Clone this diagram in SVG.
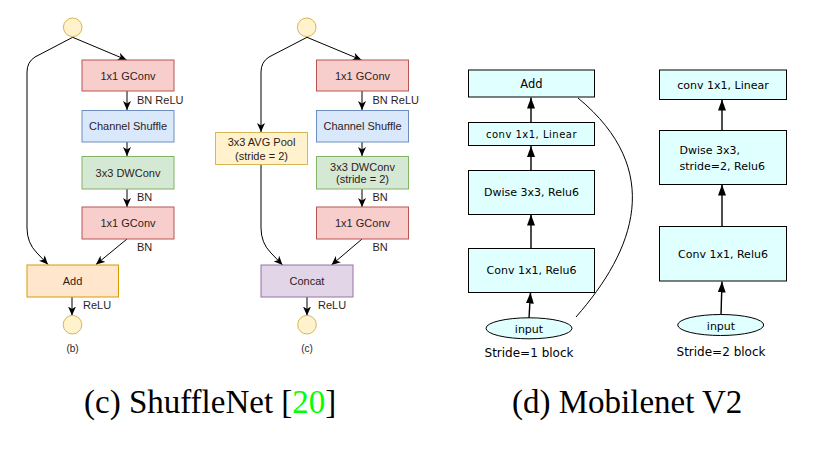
<svg xmlns="http://www.w3.org/2000/svg" width="825" height="449" viewBox="0 0 825 449">
<defs>
<marker id="ah" markerWidth="10" markerHeight="8" refX="9" refY="4" orient="auto" markerUnits="userSpaceOnUse"><path d="M0,0 L9,4 L0,8 L2.5,4 z" fill="#000"/></marker>
<marker id="ahm" markerWidth="11" markerHeight="8" refX="11" refY="4" orient="auto" markerUnits="userSpaceOnUse"><path d="M0,0 L11,4 L0,8 z" fill="#000"/></marker>
<style>
.dio{font-family:"Liberation Sans",Arial,sans-serif;font-size:11px;fill:#2e1c1c;text-anchor:middle}
.lab{font-family:"Liberation Sans",Arial,sans-serif;font-size:11px;fill:#2e1c1c}
.red{fill:#f8cecc;stroke:#b85450;stroke-width:1}
.blue{fill:#dae8fc;stroke:#6c8ebf;stroke-width:1}
.green{fill:#d5e8d4;stroke:#82b366;stroke-width:1}
.yel{fill:#fff2cc;stroke:#d6b656;stroke-width:1}
.org{fill:#ffe6cc;stroke:#d79b00;stroke-width:1}
.pur{fill:#e1d5e7;stroke:#9673a6;stroke-width:1}
.mb{fill:#e0ffff;stroke:#000;stroke-width:1}
.mt{font-family:"DejaVu Sans",Verdana,sans-serif;font-size:11px;fill:#000;text-anchor:middle}
.cap{font-family:"Liberation Serif","Times New Roman",serif;font-size:33px;fill:#000}
.e{fill:none;stroke:#000;stroke-width:1;marker-end:url(#ah)}
.em{fill:none;stroke:#000;stroke-width:1.4;marker-end:url(#ahm)}
</style>
</defs>
<rect width="825" height="449" fill="#fff"/>

<g id="connectors">
<!-- panel b -->
<path class="e" d="M72.7,37.3 L126.7,60"/>
<path class="e" d="M72.7,37.3 L35,57 Q27,62 27,72 L27,228 Q27,243 37,253 L48,264.5"/>
<path class="e" d="M127,91 L127,110"/>
<path class="e" d="M127,142 L127,156"/>
<path class="e" d="M127,189 L127,207"/>
<path class="e" d="M127,239 L96,264.5"/>
<path class="e" d="M72,297 L72,315.5"/>
<!-- panel c -->
<path class="e" d="M307,37.3 L361.5,60"/>
<path class="e" d="M307,37.3 L269,57 Q261,62 261,72 L261,132"/>
<path class="e" d="M261,164 L261,228 Q261,243 271,253 L282.5,265"/>
<path class="e" d="M362,91 L362,110"/>
<path class="e" d="M362,142 L362,156"/>
<path class="e" d="M362,189 L362,207"/>
<path class="e" d="M362,239 L331.5,265"/>
<path class="e" d="M307,297 L307,315.5"/>
<!-- panel d left -->
<path class="em" d="M529,318 L530.5,292.5"/>
<path class="em" d="M531,248 L531,214.5"/>
<path class="em" d="M531,170 L531,146"/>
<path class="em" d="M531,122.5 L531,97.5"/>
<path fill="none" stroke="#000" stroke-width="1" d="M576,317 C635,250 665,170 578,98"/>
<!-- panel d right -->
<path class="em" d="M721,315 L722,281.5"/>
<path class="em" d="M722,226.5 L722,184.5"/>
<path class="em" d="M722,130 L722,99.5"/>
</g>

<g id="b-in"><circle cx="72.7" cy="27.3" r="9.3" class="yel"/></g>
<g id="b-gconv1"><rect x="82" y="60" width="92" height="31" class="red"/><text class="dio" x="128" y="79.5">1x1 GConv</text></g>
<g id="b-shuffle"><rect x="82" y="110.5" width="92" height="31.5" class="blue"/><text class="dio" x="128" y="130">Channel Shuffle</text></g>
<g id="b-dw"><rect x="82" y="156.5" width="92" height="32.5" class="green"/><text class="dio" x="128" y="176.5">3x3 DWConv</text></g>
<g id="b-gconv2"><rect x="82" y="207" width="92" height="32" class="red"/><text class="dio" x="128" y="227">1x1 GConv</text></g>
<g id="b-add"><rect x="27" y="265" width="91.5" height="32" class="org"/><text class="dio" x="72.5" y="285">Add</text></g>
<g id="b-out"><circle cx="72.5" cy="324.7" r="9.3" class="yel"/></g>
<g id="b-labels">
<text class="lab" x="137" y="104">BN ReLU</text>
<text class="lab" x="137" y="200.5">BN</text>
<text class="lab" x="137" y="250.5">BN</text>
<text class="lab" x="83" y="309">ReLU</text>
<text class="dio" x="72.5" y="352" style="font-size:10px">(b)</text>
</g>

<g id="c-in"><circle cx="306.7" cy="27.3" r="9.3" class="yel"/></g>
<g id="c-gconv1"><rect x="316.5" y="60" width="92" height="31" class="red"/><text class="dio" x="362.5" y="79.5">1x1 GConv</text></g>
<g id="c-pool"><rect x="215.5" y="132.5" width="92" height="32" class="yel"/><text class="dio" x="261.5" y="146">3x3 AVG Pool</text><text class="dio" x="261.5" y="159.5">(stride = 2)</text></g>
<g id="c-shuffle"><rect x="316.5" y="110.5" width="92" height="31.5" class="blue"/><text class="dio" x="362.5" y="130">Channel Shuffle</text></g>
<g id="c-dw"><rect x="316.5" y="156.5" width="92" height="32.5" class="green"/><text class="dio" x="362.5" y="170.5">3x3 DWConv</text><text class="dio" x="362.5" y="182.5">(stride = 2)</text></g>
<g id="c-gconv2"><rect x="316.5" y="207" width="92" height="32" class="red"/><text class="dio" x="362.5" y="227">1x1 GConv</text></g>
<g id="c-concat"><rect x="261" y="265" width="92" height="32" class="pur"/><text class="dio" x="307" y="285">Concat</text></g>
<g id="c-out"><circle cx="307" cy="324.7" r="9.3" class="yel"/></g>
<g id="c-labels">
<text class="lab" x="372.5" y="104">BN ReLU</text>
<text class="lab" x="372.5" y="200.5">BN</text>
<text class="lab" x="372.5" y="250.5">BN</text>
<text class="lab" x="318" y="309">ReLU</text>
<text class="dio" x="307" y="352" style="font-size:10px">(c)</text>
</g>

<g id="d1-add"><rect x="468.5" y="70" width="126" height="27" class="mb"/><text class="mt" x="531.5" y="88" style="font-size:11.5px">Add</text></g>
<g id="d1-linear"><rect x="468.5" y="122.5" width="126" height="23" class="mb"/><text class="mt" x="531.5" y="137.5" style="font-size:10px;letter-spacing:0.5px">conv 1x1, Linear</text></g>
<g id="d1-dwise"><rect x="468.5" y="170.5" width="126" height="44" class="mb"/><text class="mt" x="531.5" y="196">Dwise 3x3, Relu6</text></g>
<g id="d1-conv"><rect x="468.5" y="248.5" width="126" height="44" class="mb"/><text class="mt" x="531.5" y="274">Conv 1x1, Relu6</text></g>
<g id="d1-input"><ellipse cx="529" cy="328.3" rx="43" ry="10.5" class="mb"/><text class="mt" x="529" y="332.5">input</text></g>
<text class="mt" x="529" y="357" style="font-size:12px">Stride=1 block</text>

<g id="d2-linear"><rect x="659.5" y="70" width="127" height="29.5" class="mb"/><text class="mt" x="723" y="88.5">conv 1x1, Linear</text></g>
<g id="d2-dwise"><rect x="659.5" y="130.5" width="127" height="54" class="mb"/><text class="mt" x="679.5" y="154" style="text-anchor:start">Dwise 3x3,</text><text class="mt" x="679.5" y="170" style="text-anchor:start">stride=2, Relu6</text></g>
<g id="d2-conv"><rect x="659.5" y="226.5" width="127" height="54.5" class="mb"/><text class="mt" x="723" y="257.5">Conv 1x1, Relu6</text></g>
<g id="d2-input"><ellipse cx="720.7" cy="325" rx="43" ry="10.5" class="mb"/><text class="mt" x="721" y="329.5">input</text></g>
<text class="mt" x="721" y="356" style="font-size:12px">Stride=2 block</text>

<text class="cap" x="84" y="413">(c) ShuffleNet [<tspan fill="#00ff00">20</tspan>]</text>
<text class="cap" x="512" y="413">(d) Mobilenet V2</text>
</svg>
